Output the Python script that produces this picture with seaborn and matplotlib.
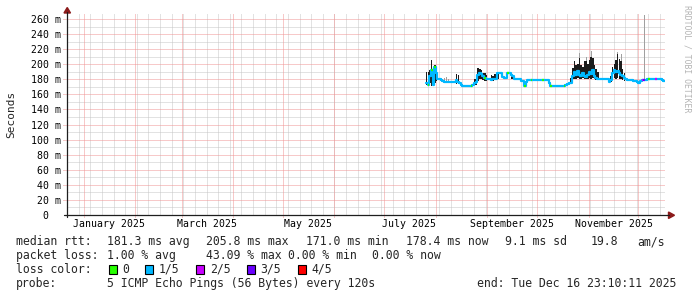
import numpy as np
import pandas as pd
import matplotlib
matplotlib.use("Agg")
import matplotlib.pyplot as plt
import seaborn as sns
from matplotlib.lines import Line2D
from matplotlib.patches import Polygon, Rectangle

# ---------------- data ----------------
series_start = "2025-07-26"
graph_start = "2024-12-21 23:10:11"
graph_end = "2025-12-16 23:10:11"

# daily median rtt in ms
median_ms = [
    175, 173, 185, 193, 173, 196, 188, 181, 181, 179,
    178, 177, 177, 177, 176, 176, 176, 176, 179, 176,
    175, 172, 171.5, 171.5, 171.5, 171.5, 171.5, 171.5, 172, 175,
    176, 186, 188, 187, 185, 182, 181, 181, 180, 179.5,
    180, 181, 181, 189, 189, 188, 183, 182, 182, 188,
    188, 186, 184, 181, 180, 180, 180, 178, 178, 171,
    176, 179.5, 179.5, 179, 179, 179, 179.5, 179.5, 179.5, 179.5,
    179.5, 179.5, 179.5, 179.5, 175, 171, 171, 171, 171, 171,
    171, 171, 171, 171, 172, 174, 175, 175, 185, 190,
    186, 191, 186, 184, 189, 185, 183, 186, 190, 187,
    192, 184, 182, 181, 180, 180, 180, 180, 180, 180,
    177, 179, 188, 192, 190, 191, 188, 186, 184, 182,
    180, 179, 179, 179, 179, 178, 178, 177, 175, 178,
    179, 179, 179.5, 180, 180, 180, 180, 180, 180, 180,
    181, 181, 179, 178.4,
]
# daily loss level (number of lost pings out of 5)
loss_level = [
    1, 0, 1, 0, 1, 0, 1, 1, 1, 1,
    1, 1, 1, 1, 1, 1, 1, 1, 1, 1,
    1, 1, 1, 1, 1, 1, 1, 0, 1, 1,
    1, 1, 1, 1, 1, 0, 1, 1, 1, 1,
    1, 1, 1, 1, 1, 1, 1, 1, 1, 0,
    1, 1, 1, 1, 1, 1, 1, 1, 1, 0,
    1, 1, 1, 0, 1, 1, 1, 1, 1, 1,
    0, 1, 1, 1, 1, 0, 1, 1, 1, 1,
    1, 1, 1, 0, 1, 1, 1, 1, 1, 1,
    1, 1, 1, 1, 1, 1, 1, 1, 1, 1,
    1, 1, 1, 1, 1, 1, 1, 1, 1, 1,
    1, 1, 1, 1, 1, 1, 1, 1, 1, 1,
    1, 1, 1, 1, 1, 1, 1, 1, 1, 1,
    2, 3, 1, 1, 0, 1, 1, 1, 2, 1,
    1, 1, 1, 1,
]

# dark smoke (spread of the pings)
smoke_day = [
    "2025-07-26", "2025-07-27", "2025-07-28", "2025-07-29", "2025-07-30", "2025-07-31", "2025-08-01",
    "2025-08-13", "2025-08-14", "2025-08-24", "2025-08-25", "2025-08-26", "2025-08-27", "2025-08-28",
    "2025-08-29", "2025-08-30", "2025-08-31", "2025-09-03", "2025-09-04", "2025-09-05", "2025-09-06",
    "2025-09-07", "2025-09-15", "2025-09-16", "2025-09-23",
    "2025-10-21", "2025-10-22", "2025-10-23", "2025-10-24", "2025-10-25", "2025-10-26", "2025-10-27",
    "2025-10-28", "2025-10-29", "2025-10-30", "2025-10-31", "2025-11-01", "2025-11-02", "2025-11-03",
    "2025-11-04", "2025-11-05", "2025-11-06",
    "2025-11-14", "2025-11-15", "2025-11-16", "2025-11-17", "2025-11-18", "2025-11-19", "2025-11-20",
    "2025-11-21", "2025-11-22",
]
smoke_lo = [
    172, 172, 175, 171, 171, 175, 178,
    174, 174, 173, 173, 178, 180, 181,
    179, 178, 178, 178, 178, 179, 179,
    180, 181, 180, 170,
    174, 180, 181, 180, 182, 181, 180,
    182, 181, 180, 181, 182, 181, 182,
    180, 179, 179,
    177, 182, 182, 181, 182, 180, 180,
    179, 178,
]
smoke_hi = [
    190, 190, 192, 206, 186, 199, 193,
    187, 186, 180, 181, 195, 194, 192,
    189, 188, 186, 186, 184, 187, 185,
    190, 189, 186, 174,
    182, 195, 204, 199, 200, 208, 199,
    197, 204, 204, 201, 206, 210, 208,
    199, 194, 190,
    185, 196, 201, 205, 214, 207, 204,
    194, 189,
]
# light grey outliers
outlier_day = ["2025-08-06", "2025-08-07", "2025-08-08", "2025-10-26", "2025-10-30",
               "2025-11-02", "2025-11-18", "2025-11-20", "2025-12-04"]
outlier_lo = [176, 176, 176, 184, 190, 195, 195, 195, 179]
outlier_hi = [182, 183, 181, 215, 210, 217, 216, 214, 265]

y_ticks = [0, 20, 40, 60, 80, 100, 120, 140, 160, 180, 200, 220, 240, 260]
y_tick_labels = ["  0", " 20 m", " 40 m", " 60 m", " 80 m", "100 m", "120 m", "140 m",
                 "160 m", "180 m", "200 m", "220 m", "240 m", "260 m"]
x_label_dates = ["2025-01-16", "2025-03-16", "2025-05-16", "2025-07-16", "2025-09-16", "2025-11-16"]
x_labels = ["January 2025", "March 2025", "May 2025", "July 2025", "September 2025", "November 2025"]

loss_names = ["0", "1/5", "2/5", "3/5", "4/5"]
loss_colors = ["#26ff00", "#00b8ff", "#c800ff", "#6a00ff", "#ff0000"]

rtt_line = [("181.3 ms avg", 107), ("205.8 ms max", 206), ("171.0 ms min", 306),
            ("178.4 ms now", 405.5), ("9.1 ms sd", 505), ("19.8", 591), ("am/s", 637)]
loss_line = [("1.00 % avg", 107), ("43.09 % max", 206), ("0.00 % min", 288), ("0.00 % now", 372)]
probe_text = "5 ICMP Echo Pings (56 Bytes) every 120s"
end_text = "end: Tue Dec 16 23:10:11 2025"

# ---------------- figure ----------------
sns.set_theme(style="white")
plt.rcParams["font.family"] = ["DejaVu Sans Mono", "DejaVu Sans"]

W, H = 697, 297
def fx(x):
    return x / W
def fy(y):
    return 1 - y / H

fig = plt.figure(figsize=(W / 100, H / 100), dpi=100, facecolor="white")
L, R, T, B = 67, 665, 13, 215
ax = fig.add_axes([fx(L), fy(B), (R - L) / W, (B - T) / H])
ax.set_facecolor("white")
for s in ax.spines.values():
    s.set_visible(False)

t0 = pd.Timestamp(graph_start)
t1 = pd.Timestamp(graph_end)
ax.set_xlim(t0, t1)
ax.set_ylim(0, 268)

# grid (dotted, like rrdtool)
minor_col = "#c6c6c6"
major_col = "#f09494"
dots = (0, (1, 1))
gkw = dict(lw=0.72, ls=dots, snap=True)
for v in range(10, 268, 20):
    ax.axhline(v, color=minor_col, zorder=0, **gkw)
for sun in pd.date_range("2024-12-22", graph_end, freq="7D"):
    ax.axvline(sun, color=minor_col, zorder=0, **gkw)
for v in y_ticks[1:]:
    ax.axhline(v, xmin=-0.006, color=major_col, zorder=0.5, clip_on=False, **gkw)
for ms in pd.date_range("2025-01-01", graph_end, freq="MS"):
    ax.axvline(ms, ymin=-0.012, color=major_col, zorder=0.5, clip_on=False, **gkw)

# smoke
out_x = pd.to_datetime(outlier_day) + pd.Timedelta(hours=12)
ax.bar(out_x, np.array(outlier_hi) - np.array(outlier_lo), bottom=outlier_lo, width=0.6,
       color="#a0a0a0", lw=0, zorder=2)
sm_x = pd.to_datetime(smoke_day) + pd.Timedelta(hours=12)
ax.bar(sm_x, np.array(smoke_hi) - np.array(smoke_lo), bottom=smoke_lo, width=0.9,
       color="#1c1c1c", lw=0, zorder=3)

# median line
dates = pd.date_range(series_start, periods=len(median_ms), freq="D")
xs = list(dates) + [t1]
ys = list(median_ms) + [median_ms[-1]]
LW = 1.6
sns.lineplot(x=xs, y=ys, ax=ax, drawstyle="steps-post", color=loss_colors[1], lw=LW,
             legend=False, sort=False, zorder=4)
for i, lv in enumerate(loss_level):
    if lv != 1:
        ax.hlines(median_ms[i], xs[i], xs[i + 1], color=loss_colors[lv], lw=LW, zorder=5)

ax.set_xlabel("")
ax.set_ylabel("")

# ticks
ax.set_yticks(y_ticks, labels=y_tick_labels)
ax.tick_params(axis="y", length=0, pad=26.1, labelsize=7.1, colors="black")
for lbl in ax.get_yticklabels():
    lbl.set_ha("left")
ax.set_xticks(pd.to_datetime(x_label_dates), labels=x_labels)
ax.tick_params(axis="x", length=0, pad=3, labelsize=7.1, colors="black")

# axes lines and arrows
axis_col = "#1e1e1e"
arrow_col = "#8b1a1a"
fig.add_artist(Line2D([fx(L), fx(L)], [fy(B + 2), fy(12)], color=axis_col, lw=0.9))
fig.add_artist(Line2D([fx(L - 3), fx(669)], [fy(B), fy(B)], color=axis_col, lw=0.9))
fig.add_artist(Polygon([(fx(L - 3), fy(13)), (fx(L + 3.5), fy(13)), (fx(L + 0.25), fy(7.5))],
                       closed=True, color=arrow_col, transform=fig.transFigure))
fig.add_artist(Polygon([(fx(668.5), fy(B - 3)), (fx(668.5), fy(B + 3.5)), (fx(674.5), fy(B + 0.25))],
                       closed=True, color=arrow_col, transform=fig.transFigure))

# y label and watermark
fig.text(fx(11), fy(114), "Seconds", rotation=90, ha="center", va="center", fontsize=8)
fig.text(fx(687), fy(5), "RRDTOOL / TOBI OETIKER", rotation=270, ha="center", va="top",
         fontsize=5.9, color="#b4b4b4")

# legend text
FS = 8.3
base = [245.3, 259, 273, 287]
fig.text(fx(16), fy(base[0]), "median rtt:", ha="left", va="baseline", fontsize=FS)
for s, x in rtt_line:
    fig.text(fx(x), fy(base[0]), s, ha="left", va="baseline", fontsize=FS)
fig.text(fx(16), fy(base[1]), "packet loss:", ha="left", va="baseline", fontsize=FS)
for s, x in loss_line:
    fig.text(fx(x), fy(base[1]), s, ha="left", va="baseline", fontsize=FS)
fig.text(fx(16), fy(base[2]), "loss color:", ha="left", va="baseline", fontsize=FS)
box_x = [108.5, 145, 196, 246.5, 297.5]
for name, col, bx in zip(loss_names, loss_colors, box_x):
    fig.add_artist(Rectangle((fx(bx), fy(273.5)), 8 / W, 8.5 / H, facecolor=col,
                             edgecolor="black", lw=0.8, transform=fig.transFigure))
    fig.text(fx(bx + 14), fy(base[2]), name, ha="left", va="baseline", fontsize=FS)
fig.text(fx(16), fy(base[3]), "probe:", ha="left", va="baseline", fontsize=FS)
fig.text(fx(107), fy(base[3]), probe_text, ha="left", va="baseline", fontsize=FS)
fig.text(fx(477), fy(base[3]), end_text, ha="left", va="baseline", fontsize=FS)

fig.savefig("out.png", dpi=100, facecolor="white")
